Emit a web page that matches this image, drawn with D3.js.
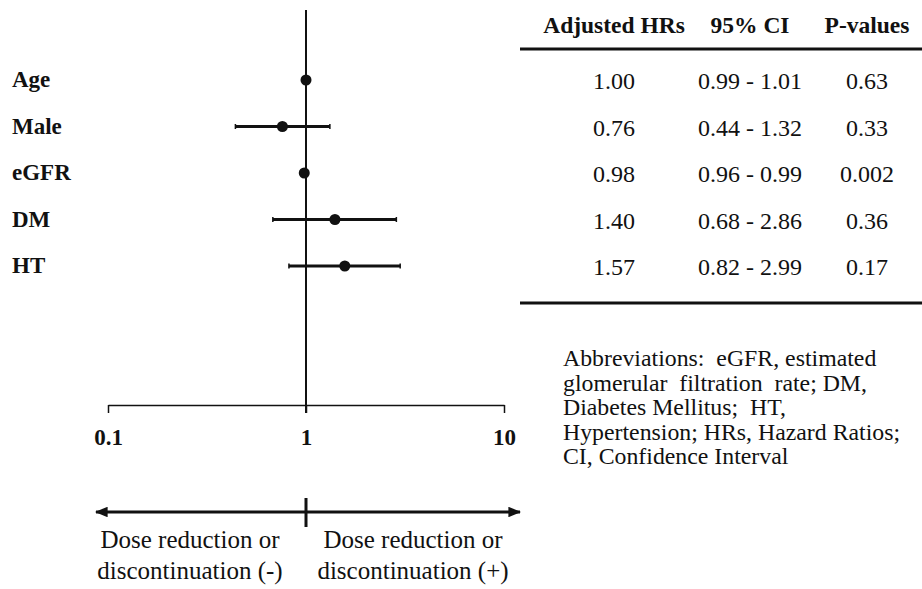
<!DOCTYPE html>
<meta charset="utf-8">
<style>
body { margin: 0; background: #fff; }
svg text { font-family: "Liberation Serif", "Times New Roman", serif; fill: #111; }
.lbl { font-size: 23px; font-weight: bold; }
.hdr { font-size: 23.5px; font-weight: bold; }
.cell { font-size: 24px; }
.note { font-size: 23.8px; }
.dir { font-size: 25px; }
</style>
<svg width="922" height="589"></svg>
<script src="https://cdn.jsdelivr.net/npm/d3@7"></script>
<script>
var vars = ["Age", "Male", "eGFR", "DM", "HT"];
var hr = [1.00, 0.76, 0.98, 1.40, 1.57];
var lo = [0.99, 0.44, 0.96, 0.68, 0.82];
var hi = [1.01, 1.32, 0.99, 2.86, 2.99];
var pvals = ["0.63", "0.33", "0.002", "0.36", "0.17"];
var hrText = ["1.00", "0.76", "0.98", "1.40", "1.57"];
var ciText = ["0.99 - 1.01", "0.44 - 1.32", "0.96 - 0.99", "0.68 - 2.86", "0.82 - 2.99"];
var headers = ["Adjusted HRs", "95% CI", "P-values"];
var ticks = [0.1, 1, 10];
var notes = ["Abbreviations:  eGFR, estimated", "glomerular  filtration  rate; DM,",
  "Diabetes Mellitus;  HT,", "Hypertension; HRs, Hazard Ratios;", "CI, Confidence Interval"];

var svg = d3.select("svg");

var x = d3.scaleLog().domain([0.1, 10]).range([108, 504]);
var y = d3.scalePoint().domain(vars).range([80, 266]);

// axis
var axis = svg.append("g")
    .attr("transform", "translate(0,405)")
    .call(d3.axisBottom(x).tickValues(ticks).tickFormat(d3.format("")).tickSize(8).tickSizeOuter(0));
axis.select(".domain").attr("stroke", "#111").attr("stroke-width", 1.5);
axis.selectAll(".tick line").attr("stroke", "#111").attr("stroke-width", 1.5);
axis.selectAll(".tick text")
    .attr("class", "lbl")
    .attr("y", 40).attr("dy", null);
axis.attr("font-family", null).attr("font-size", null);

// reference line
svg.append("line")
    .attr("x1", x(1)).attr("x2", x(1)).attr("y1", 10).attr("y2", 413)
    .attr("stroke", "#111").attr("stroke-width", 2);

// labels
svg.selectAll(".rowlbl").data(vars).enter().append("text")
    .attr("class", "lbl")
    .attr("x", 12).attr("y", function(d) { return y(d) + 7; })
    .text(function(d) { return d; });

// error bars
var rows = svg.selectAll(".row").data(vars).enter().append("g");
rows.append("line")
    .attr("x1", function(d, i) { return x(lo[i]); })
    .attr("x2", function(d, i) { return x(hi[i]); })
    .attr("y1", function(d) { return y(d); }).attr("y2", function(d) { return y(d); })
    .attr("stroke", "#111").attr("stroke-width", 3);
[lo, hi].forEach(function(arr) {
  rows.append("line")
      .attr("x1", function(d, i) { return x(arr[i]); })
      .attr("x2", function(d, i) { return x(arr[i]); })
      .attr("y1", function(d) { return y(d) - 2.5; }).attr("y2", function(d) { return y(d) + 2.5; })
      .attr("stroke", "#111").attr("stroke-width", 1.5);
});
rows.append("circle")
    .attr("cx", function(d, i) { return x(hr[i]); })
    .attr("cy", function(d) { return y(d); })
    .attr("r", 5.5).attr("fill", "#111");

// table
var cols = [614, 750, 867];
svg.selectAll(".hdr").data(headers).enter().append("text")
    .attr("class", "hdr")
    .attr("x", function(d, i) { return cols[i]; }).attr("y", 33)
    .attr("text-anchor", "middle")
    .text(function(d) { return d; });
[49, 303].forEach(function(yy) {
  svg.append("line").attr("x1", 520).attr("x2", 922).attr("y1", yy).attr("y2", yy)
      .attr("stroke", "#111").attr("stroke-width", 3);
});
[hrText, ciText, pvals].forEach(function(arr, c) {
  svg.selectAll(null).data(arr).enter().append("text")
      .attr("class", "cell")
      .attr("x", cols[c])
      .attr("y", function(d, i) { return y(vars[i]) + 9; })
      .attr("text-anchor", "middle")
      .text(function(d) { return d; });
});

// abbreviations
svg.append("text").attr("class", "note")
  .selectAll("tspan").data(notes).enter().append("tspan")
    .attr("x", 563).attr("y", function(d, i) { return 366 + i * 24.5; })
    .attr("xml:space", "preserve")
    .text(function(d) { return d; });

// direction arrow
svg.append("defs").append("marker")
    .attr("id", "ah").attr("viewBox", "0 0 10 10").attr("refX", 9).attr("refY", 5)
    .attr("markerWidth", 4.3).attr("markerHeight", 3.5).attr("orient", "auto-start-reverse")
    .attr("preserveAspectRatio", "none")
  .append("path").attr("d", "M0,0 L10,5 L0,10 z").attr("fill", "#111");
svg.append("line")
    .attr("x1", 96).attr("x2", 520).attr("y1", 512).attr("y2", 512)
    .attr("stroke", "#111").attr("stroke-width", 3)
    .attr("marker-start", "url(#ah)").attr("marker-end", "url(#ah)");
svg.append("line")
    .attr("x1", x(1)).attr("x2", x(1)).attr("y1", 498).attr("y2", 527)
    .attr("stroke", "#111").attr("stroke-width", 3);
var dirs = [["Dose reduction or", "discontinuation (-)"], ["Dose reduction or", "discontinuation (+)"]];
var dirX = [190, 413];
dirs.forEach(function(lines, k) {
  svg.append("text").attr("class", "dir").attr("text-anchor", "middle")
    .selectAll("tspan").data(lines).enter().append("tspan")
      .attr("x", dirX[k]).attr("y", function(d, i) { return 548 + i * 31; })
      .text(function(d) { return d; });
});
</script>
